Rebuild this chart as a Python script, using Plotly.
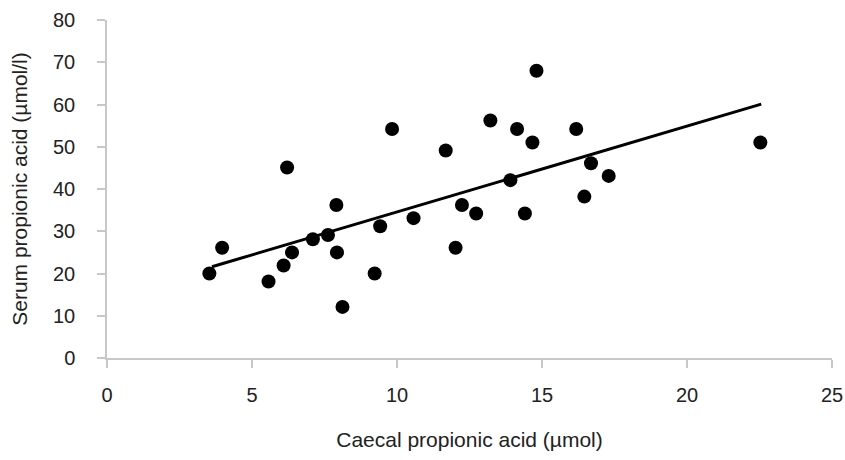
import plotly.graph_objects as go

# Data
caecal = [3.53, 3.97, 5.57, 6.09, 6.21, 6.38, 7.10, 7.62, 7.91, 7.93, 8.12, 9.23, 9.42,
          9.83, 10.57, 11.68, 12.02, 12.24, 12.73, 13.22, 13.91, 14.14, 14.41, 14.67,
          14.81, 16.18, 16.46, 16.69, 17.30, 22.53]
serum = [20.0, 26.1, 18.1, 21.9, 45.1, 25.0, 28.1, 29.1, 36.2, 25.0, 12.1, 20.0, 31.2,
         54.2, 33.1, 49.1, 26.1, 36.2, 34.2, 56.2, 42.1, 54.2, 34.2, 51.0,
         68.0, 54.2, 38.2, 46.1, 43.1, 51.0]
trend_x = [3.62, 22.56]
trend_y = [21.6, 60.1]

x_ticks = [0, 5, 10, 15, 20, 25]
y_ticks = [0, 10, 20, 30, 40, 50, 60, 70, 80]

font_family = "Liberation Sans, Arial, Helvetica, sans-serif"

fig = go.Figure()
fig.add_trace(go.Scatter(x=caecal, y=serum, mode="markers",
                         marker=dict(color="black", size=14), showlegend=False))
fig.add_trace(go.Scatter(x=trend_x, y=trend_y, mode="lines",
                         line=dict(color="black", width=3), showlegend=False))

fig.update_layout(
    width=845, height=460,
    margin=dict(l=107, r=13, t=20, b=102),
    paper_bgcolor="white", plot_bgcolor="white",
    font=dict(family=font_family, color="#222222"),
)
fig.update_xaxes(
    range=[0, 25], tickvals=x_ticks, showgrid=False, zeroline=False, automargin=False,
    showline=True, linecolor="#c8c8c8", linewidth=1.5,
    ticks="outside", ticklen=8, tickcolor="#c8c8c8", tickwidth=1.5,
    tickfont=dict(size=20, color="#222222"), ticklabelstandoff=10,
    ticklabeloverflow="allow",
    title=dict(text="Caecal propionic acid (µmol)", font=dict(size=21, color="#222222"), standoff=28),
)
fig.update_yaxes(
    range=[0, 80], tickvals=y_ticks, showgrid=False, zeroline=False, automargin=False,
    showline=True, linecolor="#c8c8c8", linewidth=1.5,
    ticks="outside", ticklen=8, tickcolor="#c8c8c8", tickwidth=1.5,
    tickfont=dict(size=20, color="#222222"), ticklabelstandoff=18,
    ticklabeloverflow="allow",
    title=dict(text="Serum propionic acid (µmol/l)", font=dict(size=21, color="#222222"), standoff=20),
)

# remove the browser's default 8px body margin so the figure fills the window exactly
fig.write_html("out.html",
               config={"displayModeBar": False},
               post_script="document.body.style.margin='0';document.body.style.overflow='hidden';")
